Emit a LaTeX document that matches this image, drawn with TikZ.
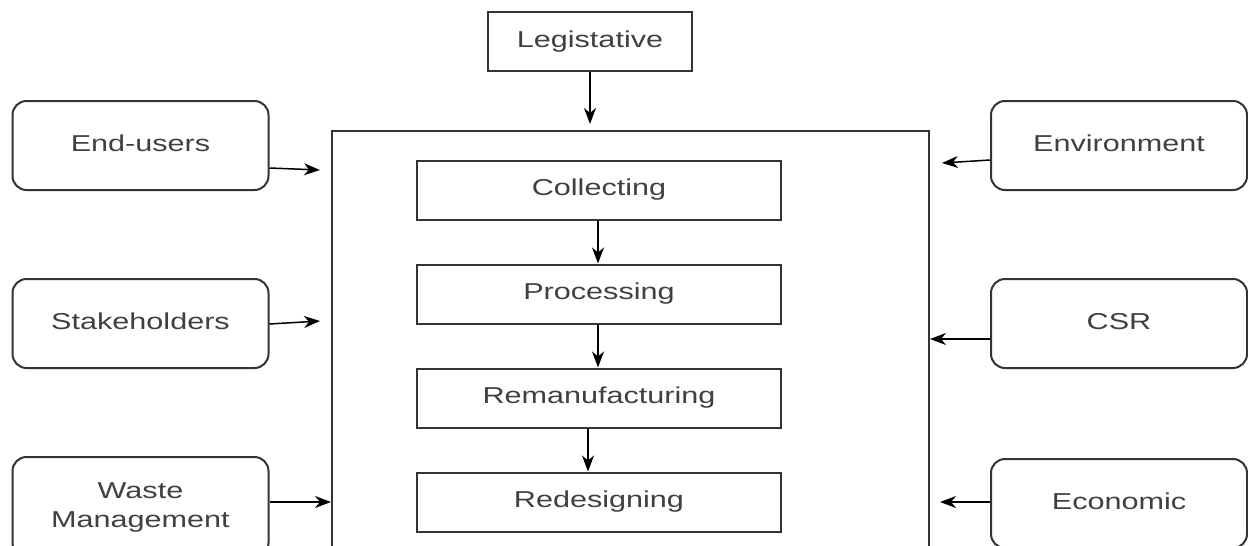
\documentclass[tikz,border=0pt]{standalone}
\usepackage{fontspec}
\setmainfont{Liberation Sans}
\usetikzlibrary{arrows.meta,calc}
% wide, centred label text
\newcommand\wtxt[1]{\scalebox{1.33}[1]{\begin{tabular}{@{}c@{}}#1\end{tabular}}}
\tikzset{
  base/.style={draw=black!80, line width=2pt, text=black!75,
    font=\fontsize{23}{29}\selectfont, inner sep=0pt},
  stage/.style={base, rectangle, minimum width=364pt, minimum height=59pt},
  factor/.style={base, rectangle, rounded corners=14pt,
    minimum width=256pt, minimum height=89pt},
  frame/.style={base, rectangle},
  arr/.style={draw=black, line width=1.5pt,
    -{Stealth[length=16pt,width=12pt,inset=5pt]}},
}
\begin{document}
\begin{tikzpicture}[x=1pt,y=-1pt]
\useasboundingbox (0,0) rectangle (1248,546);
\clip (0,0) rectangle (1248,546);
\fill[white] (0,0) rectangle (1248,546);

% central process frame
\node[frame, minimum width=597pt, minimum height=490pt] (big) at (630.5,376) {};
\node[base, minimum width=204pt, minimum height=59pt] (leg) at (590,41.5) {\wtxt{Legistative}};

% process stages
\node[stage] (col) at (599,190) {\wtxt{Collecting}};
\node[stage] (pro) at (599,294) {\wtxt{Processing}};
\node[stage] (rem) at (599,398) {\wtxt{Remanufacturing}};
\node[stage] (red) at (599,502) {\wtxt{Redesigning}};

% influencing factors
\node[factor] (eu)  at (140.5,145.5) {\wtxt{End-users}};
\node[factor] (st)  at (140.5,323.5) {\wtxt{Stakeholders}};
\node[factor, minimum height=100pt] (wm) at (140.5,507) {\wtxt{Waste\\Management}};
\node[factor] (env) at (1119,145.5) {\wtxt{Environment}};
\node[factor] (csr) at (1119,323.5) {\wtxt{CSR}};
\node[factor] (eco) at (1119,503.5) {\wtxt{Economic}};

% arrow ends next to the frame
\coordinate (euTip)  at (320,170);
\coordinate (stTip)  at (320,321);
\coordinate (envTip) at (942,163);
\coordinate (ecoTip) at (940,502);
\coordinate (wmOut)  at ($(wm.east)+(0,-5)$);
\coordinate (csrOut) at ($(csr.west)+(0,15.5)$);

% connectors
\draw[arr, shorten >=6pt] (leg.south) -- (leg.south |- big.north);
\draw[arr] ($(col.south)+(-1,0)$) -- ($(pro.north)+(-1,0)$);
\draw[arr] ($(pro.south)+(-1,0)$) -- ($(rem.north)+(-1,0)$);
\draw[arr] ($(rem.south)+(-11,0)$) -- ($(red.north)+(-11,0)$);

\draw[arr] ($(eu.east)+(0,22.5)$) -- (euTip);
\draw[arr] ($(st.east)+(0,0.5)$) -- (stTip);
\draw[arr] (wmOut) -- (wmOut -| big.west);
\draw[arr] ($(env.west)+(0,14.5)$) -- (envTip);
\draw[arr] (csrOut) -- (csrOut -| big.east);
\draw[arr] ($(eco.west)+(0,-1.5)$) -- (ecoTip);
\end{tikzpicture}
\end{document}
